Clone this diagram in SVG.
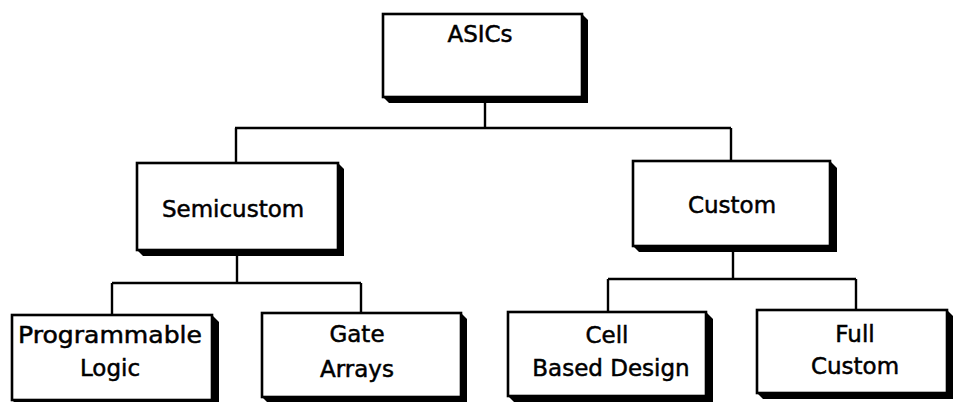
<svg xmlns="http://www.w3.org/2000/svg" width="954" height="402" viewBox="0 0 954 402">
<style>
.box{fill:#fff;stroke:#000;stroke-width:2.6}
.sh{fill:#000}
.ln{fill:none;stroke:#000;stroke-width:2.4}
text{font-family:"DejaVu Sans","Liberation Sans",sans-serif;font-size:23px;fill:#000;stroke:#000;stroke-width:0.5;text-anchor:middle}
</style>
<rect width="954" height="402" fill="#fff"/>
<g id="connectors">
<path class="ln" d="M485 97V128M235 128H731M236 128V163M731 128V161"/>
<path class="ln" d="M237 250V283M112 283H361M112 283V315M361 283V313"/>
<path class="ln" d="M733 246V279M608 279H856M608 279V312M856 279V310"/>
</g>
<g id="asics">
<polygon class="sh" points="582,14 588,20 588,103 389,103 383,97"/>
<rect class="box" x="383" y="14" width="199" height="83"/>
<text x="480" y="42">ASICs</text>
</g>
<g id="semicustom">
<polygon class="sh" points="338,163 344,169 344,256 143,256 137,250"/>
<rect class="box" x="137" y="163" width="201" height="87"/>
<text x="233" y="217">Semicustom</text>
</g>
<g id="custom">
<polygon class="sh" points="830,161 837,168 837,252 639,252 633,246"/>
<rect class="box" x="633" y="161" width="197" height="85"/>
<text x="732" y="213">Custom</text>
</g>
<g id="programmable">
<polygon class="sh" points="212,315 219,322 219,406 18,406 12,400"/>
<rect class="box" x="12" y="315" width="200" height="85"/>
<text x="110" y="343" textLength="184" lengthAdjust="spacingAndGlyphs">Programmable</text>
<text x="110" y="376">Logic</text>
</g>
<g id="gate">
<polygon class="sh" points="461,313 467,319 467,403 268,403 262,397"/>
<rect class="box" x="262" y="313" width="199" height="84"/>
<text x="357" y="342">Gate</text>
<text x="357" y="377">Arrays</text>
</g>
<g id="cell">
<polygon class="sh" points="706,312 713,319 713,402 514,402 508,396"/>
<rect class="box" x="508" y="312" width="198" height="84"/>
<text x="607" y="343">Cell</text>
<text x="611" y="376">Based Design</text>
</g>
<g id="full">
<polygon class="sh" points="947,310 953,316 953,399 763,399 757,393"/>
<rect class="box" x="757" y="310" width="190" height="83"/>
<text x="855" y="342">Full</text>
<text x="855" y="374">Custom</text>
</g>
</svg>
